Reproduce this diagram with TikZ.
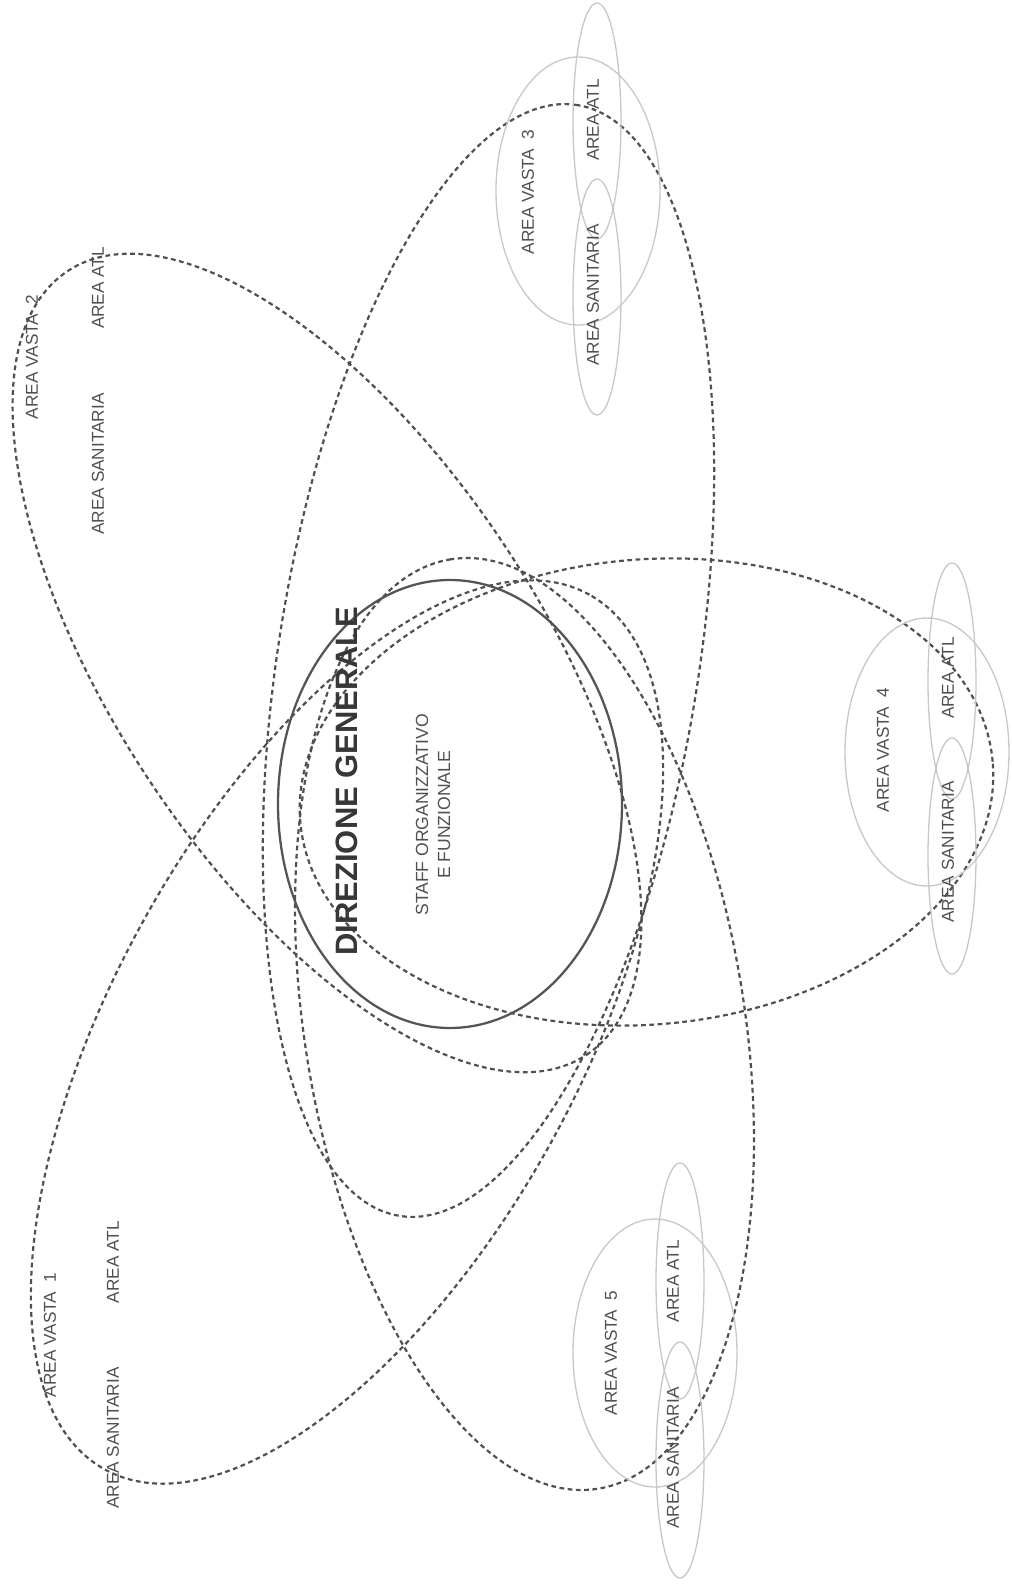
\documentclass[tikz,border=0pt]{standalone}
\usepackage{fontspec}
\setmainfont{Liberation Sans}
\usetikzlibrary{shapes.geometric, positioning, calc}
\definecolor{petalgray}{RGB}{80,80,80}
\definecolor{ringgray}{RGB}{85,85,85}
\definecolor{zonegray}{RGB}{200,200,200}
\definecolor{labelgray}{RGB}{80,80,80}
\definecolor{titlegray}{RGB}{55,55,55}
\tikzset{
    petal/.style={ellipse, draw=petalgray, line width=1.25pt, dash pattern=on 2.7pt off 2pt, inner sep=0pt},
    core/.style={ellipse, draw=ringgray, line width=1.3pt, minimum width=6.88cm, minimum height=8.96cm, inner sep=0pt},
    zone/.style={ellipse, draw=zonegray, line width=0.75pt, inner sep=0pt},
    bigzone/.style={zone, minimum width=3.28cm, minimum height=5.36cm},
    subzone/.style={zone, minimum width=0.96cm, minimum height=4.72cm},
    arealabel/.style={rotate=90, text=labelgray, inner sep=0pt, font=\fontsize{9.8}{11}\selectfont},
}

\begin{document}
\begin{tikzpicture}
    \useasboundingbox (-9.0,-15.78) rectangle (11.22,16.08);

    % dashed links from the direzione to each area vasta
    \node[petal, minimum width=22.5cm, minimum height=8.4cm, rotate=80.9] (link3) at (0.77,2.87) {};
    \node[petal, minimum width=18.82cm, minimum height=8.8cm, rotate=99] (link5) at (1.49,-4.40) {};
    \node[petal, minimum width=13.9cm, minimum height=9.3cm, rotate=5] (link4) at (3.93,0.24) {};
    \node[petal, minimum width=18.8cm, minimum height=8.52cm, rotate=-56.5] (link2) at (-2.46,2.82) {};
    \node[petal, minimum width=20cm, minimum height=9.28cm, rotate=61] (link1) at (-2.06,-4.56) {};

    % area vasta 3
    \node[bigzone] (av3) at (2.56,12.26) {};
    \node[subzone] (atl3) at (2.94,13.66) {};
    \node[subzone] (san3) at (2.94,10.14) {};
    \node[arealabel] (av3txt) at (1.56,12.24) {AREA VASTA\ \ 3};
    \node[arealabel] (atl3txt) at (2.86,13.68) {AREA ATL};
    \node[arealabel] (san3txt) at (2.86,10.18) {AREA SANITARIA};

    % area vasta 4
    \node[bigzone] (av4) at (9.54,1.04) {};
    \node[subzone] (atl4) at (10.04,2.46) {};
    \node[subzone] (san4) at (10.04,-1.04) {};
    \node[arealabel] (av4txt) at (8.66,1.08) {AREA VASTA\ \ 4};
    \node[arealabel] (atl4txt) at (9.96,2.52) {AREA ATL};
    \node[arealabel] (san4txt) at (9.96,-0.96) {AREA SANITARIA};

    % area vasta 5
    \node[bigzone] (av5) at (4.10,-10.98) {};
    \node[subzone] (atl5) at (4.60,-9.54) {};
    \node[subzone] (san5) at (4.60,-13.12) {};
    \node[arealabel] (av5txt) at (3.22,-10.98) {AREA VASTA\ \ 5};
    \node[arealabel] (atl5txt) at (4.46,-9.54) {AREA ATL};
    \node[arealabel] (san5txt) at (4.46,-13.08) {AREA SANITARIA};

    % area vasta 2 and 1, labels only
    \node[arealabel] (av2txt) at (-8.36,8.94) {AREA VASTA\ \ 2};
    \node[arealabel] (atl2txt) at (-7.04,10.32) {AREA ATL};
    \node[arealabel] (san2txt) at (-7.04,6.80) {AREA SANITARIA};
    \node[arealabel] (av1txt) at (-8.00,-10.62) {AREA VASTA\ \ 1};
    \node[arealabel] (atl1txt) at (-6.74,-9.16) {AREA ATL};
    \node[arealabel] (san1txt) at (-6.74,-12.68) {AREA SANITARIA};

    % direzione generale
    \node[core] (dg) at (0,0) {};
    \node[rotate=90, text=titlegray, inner sep=0pt, font=\fontsize{17.6}{20}\selectfont\bfseries] (dgtxt) at (-2.06,0.46) {DIREZIONE GENERALE};
    \node[rotate=90, text=labelgray, inner sep=0pt, align=center, font=\fontsize{10}{12.5}\selectfont] (staff) at (-0.34,-0.22) {STAFF ORGANIZZATIVO\\E FUNZIONALE};
\end{tikzpicture}
\end{document}
